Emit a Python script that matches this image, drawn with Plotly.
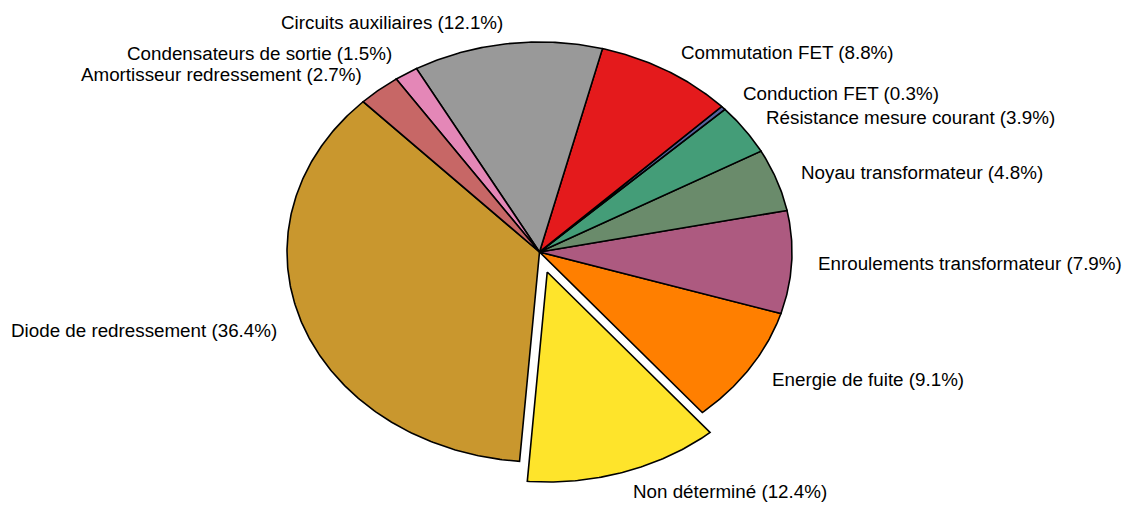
import numpy as np
import plotly.graph_objects as go

# Loss breakdown (percent), listed counter-clockwise from the start angle
categories = [
    "Diode de redressement",
    "Non déterminé",
    "Energie de fuite",
    "Enroulements transformateur",
    "Noyau transformateur",
    "Résistance mesure courant",
    "Conduction FET",
    "Commutation FET",
    "Circuits auxiliaires",
    "Condensateurs de sortie",
    "Amortisseur redressement",
]
values = [36.4, 12.4, 9.1, 7.9, 4.8, 3.9, 0.3, 8.8, 12.1, 1.5, 2.7]
colors = [
    "#C9972E", "#FEE42B", "#FF7F00", "#AD5A80", "#6A8B6B", "#449D78",
    "#55639E", "#E41A1C", "#999999", "#E487B7", "#C76766",
]
explode = [0, 0.1, 0, 0, 0, 0, 0, 0, 0, 0, 0]

start_angle = 134.3
label_distance = 1.1
W, H = 1126, 505
cx_px, cy_px = 539.5, 252.0   # pie centre in pixels
rx_px, ry_px = 252.5, 210.0   # unit radius in pixels along x and y

# small vertical nudges (px) for the two crowded labels at the top left
label_nudge = {"Condensateurs de sortie": 2, "Amortisseur redressement": -1}

fig = go.Figure()
total = sum(values)
theta = start_angle
for name, v, col, ex in zip(categories, values, colors, explode):
    span = 360.0 * v / total
    t = np.radians(np.linspace(theta, theta + span, max(4, int(span * 2) + 2)))
    mid = np.radians(theta + span / 2)
    ox, oy = ex * np.cos(mid), ex * np.sin(mid)
    xs = np.concatenate([[ox], ox + np.cos(t), [ox]])
    ys = np.concatenate([[oy], oy + np.sin(t), [oy]])
    fig.add_trace(go.Scatter(
        x=xs, y=ys, mode="lines", fill="toself", fillcolor=col,
        line=dict(color="black", width=1.6), hoverinfo="skip", showlegend=False,
    ))
    lx = ox + label_distance * np.cos(mid)
    ly = oy + label_distance * np.sin(mid)
    fig.add_annotation(
        x=lx, y=ly, text=f"{name} ({v}%)", showarrow=False,
        xanchor="left" if lx > 0 else "right", yanchor="middle",
        yshift=label_nudge.get(name, 0), borderpad=0,
        font=dict(family="Liberation Sans, Arial, sans-serif", size=18.8, color="black"),
    )
    theta += span

x0 = -cx_px / rx_px
x1 = (W - cx_px) / rx_px
y1 = cy_px / ry_px
y0 = -(H - cy_px) / ry_px

fig.update_xaxes(range=[x0, x1], visible=False, showgrid=False, zeroline=False)
fig.update_yaxes(range=[y0, y1], visible=False, showgrid=False, zeroline=False)
fig.update_layout(
    width=W, height=H, margin=dict(l=0, r=0, t=0, b=0),
    paper_bgcolor="white", plot_bgcolor="white",
)
fig.write_html("out.html")
